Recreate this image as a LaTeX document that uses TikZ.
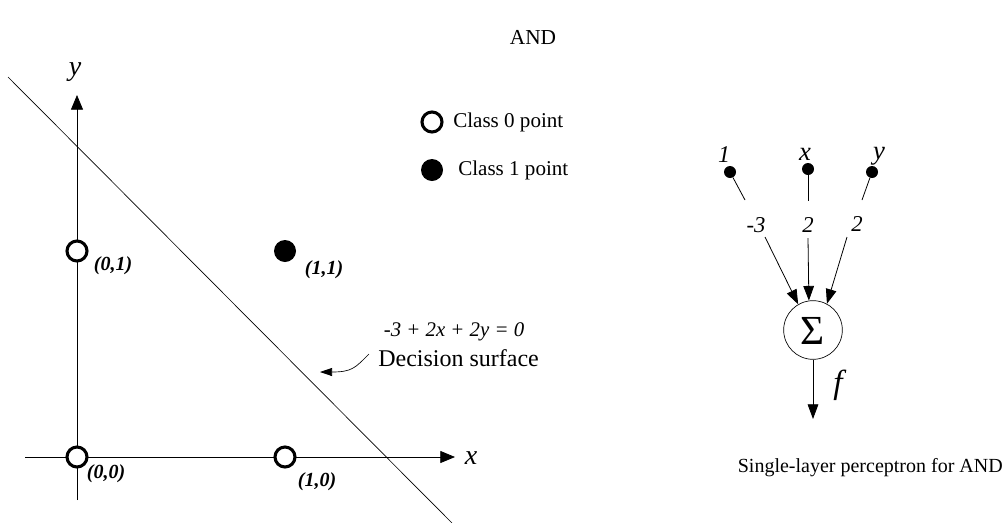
\documentclass[tikz,border=0pt]{standalone}
\usepackage{fontspec}
\setmainfont{Liberation Serif}
\usetikzlibrary{arrows.meta}
\begin{document}
\begin{tikzpicture}[x=0.75pt,y=-0.75pt,
  txt/.style={inner sep=0pt,anchor=center},
  lbl/.style={inner sep=0pt,anchor=center,font=\fontsize{15}{17}\selectfont\bfseries\itshape},
  open/.style={circle,draw,line width=2.3pt,minimum size=15pt,inner sep=0pt,fill=white},
  full/.style={circle,fill=black,minimum size=16.5pt,inner sep=0pt},
  dot/.style={circle,fill=black,minimum size=9pt,inner sep=0pt},
  axarr/.style={-{Triangle[length=11pt,width=9pt]},line width=0.6pt},
  parr/.style={-{Triangle[length=11pt,width=8pt]},line width=0.6pt}]
\path[use as bounding box] (0,0) rectangle (1006,522);
% title
\node[txt,font=\fontsize{16}{18}\selectfont] (title) at (533,37) {AND};
% axes
\coordinate (yb) at (77,500);
\coordinate (yt) at (77,95);
\coordinate (xl) at (25,457);
\coordinate (xr) at (455,457);
\draw[axarr] (yb) -- (yt);
\draw[axarr] (xl) -- (xr);
\node[txt,font=\fontsize{21}{23}\selectfont\itshape] (ylab) at (75,72) {y};
\node[txt,font=\fontsize{21}{23}\selectfont\itshape] (xlab) at (471,458) {x};
% decision line
\coordinate (d1) at (8,77);
\coordinate (d2) at (452,523);
\draw[line width=0.5pt] (d1) -- (d2);
% points
\node[open] (p00) at (77,457) {};
\node[open] (p10) at (285,457) {};
\node[open] (p01) at (77,251) {};
\node[full] (p11) at (285,251) {};
\node[lbl] (l00) at (106,474) {(0,0)};
\node[lbl] (l10) at (317,482) {(1,0)};
\node[lbl] (l01) at (113,266) {(0,1)};
\node[lbl] (l11) at (324,270) {(1,1)};
% legend
\node[open] (lg0) at (432,122) {};
\node[full] (lg1) at (432,170) {};
\node[txt,anchor=west,font=\fontsize{15.8}{17}\selectfont] (lt0) at (453,122) {Class 0 point};
\node[txt,anchor=west,font=\fontsize{15.8}{17}\selectfont] (lt1) at (458,170) {Class 1 point};
% decision annotation
\node[txt,font=\fontsize{15.6}{17}\selectfont\itshape] (eq) at (454,332) {-3 + 2x + 2y = 0};
\node[txt,anchor=west,font=\fontsize{18}{20}\selectfont] (ds) at (378,358) {Decision surface};
\coordinate (ann) at (320,372);
\draw[-{Triangle[length=9pt,width=6pt]},line width=0.5pt] (ds.west) ++(-9,-4) .. controls (355,368) and (352,372) .. (ann);
% perceptron
\node[dot] (i1) at (730,172) {};
\node[dot] (ix) at (808,169) {};
\node[dot] (iy) at (872,172) {};
\node[txt,font=\fontsize{18}{20}\selectfont\itshape] (n1) at (724,155) {1};
\node[txt,font=\fontsize{20}{22}\selectfont\itshape] (nx) at (805,154) {x};
\node[txt,font=\fontsize{20}{22}\selectfont\itshape] (ny) at (879,156) {y};
\node[txt,font=\fontsize{17}{19}\selectfont\itshape] (w1) at (756,225) {-3};
\node[txt,font=\fontsize{17}{19}\selectfont\itshape] (wx) at (808,225) {2};
\node[txt,font=\fontsize{17}{19}\selectfont\itshape] (wy) at (857,224) {2};
\node[circle,draw,line width=0.5pt,minimum size=44pt,inner sep=0pt] (sum) at (813,330) {};
\node[txt,font=\fontsize{31}{33}\selectfont] (sig) at (813,331) {Σ};
\draw[line width=0.6pt] (i1) -- (745,200);
\draw[line width=0.6pt] (ix) -- (808,201);
\draw[line width=0.6pt] (iy) -- (862,200);
\draw[parr] (765,237) -- (sum.120);
\draw[parr] (808,238) -- (sum.98);
\draw[parr] (847,237) -- (sum.62);
\coordinate (out) at (813,419);
\draw[parr] (sum) -- (out);
\node[txt,font=\fontsize{25}{27}\selectfont\itshape] (f) at (838,385) {f};
\node[txt,anchor=east,font=\fontsize{15}{17}\selectfont] (cap) at (1003,468) {Single-layer perceptron for AND};
\end{tikzpicture}
\end{document}
